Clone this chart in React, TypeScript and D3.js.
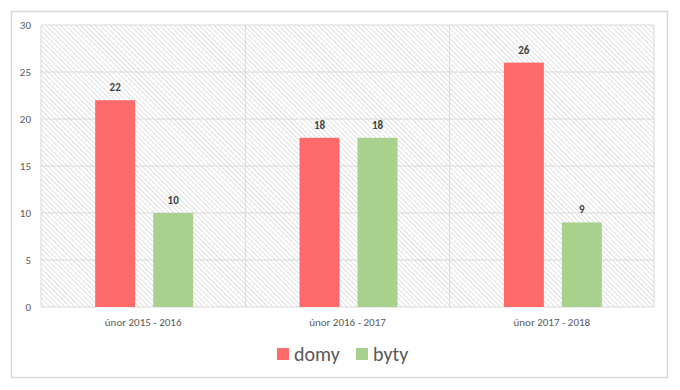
import React from 'react';
import * as d3 from 'd3';

const categories = ['únor 2015 - 2016', 'únor 2016 - 2017', 'únor 2017 - 2018'];
const domy = [22, 18, 26];
const byty = [10, 18, 9];
const yTicks = [0, 5, 10, 15, 20, 25, 30];
const seriesNames = ['domy', 'byty'];
const colors = ['#ff6b6b', '#a9d18e'];

export default function App() {
  const width = 680, height = 390;
  const left = 41, right = 654, top = 25, bottom = 307;
  const font = 'Calibri, Carlito, "Open Sans", sans-serif';

  const x = d3.scaleBand().domain(categories).range([left, right]).paddingInner(0).paddingOuter(0);
  const y = d3.scaleLinear().domain([0, 30]).range([bottom, top]);
  const barW = 40, gap = 18;
  const series = [domy, byty];

  return (
    <svg width={width} height={height} style={{ position: 'absolute', left: 0, top: 0 }}>
      <defs>
        <pattern id="hatch" width="3.5" height="3.5" patternUnits="userSpaceOnUse" patternTransform="rotate(-45)">
          <line x1="0" y1="0" x2="0" y2="3.5" stroke="#c8c8c8" strokeWidth="1.1" />
        </pattern>
      </defs>
      <rect x={0} y={0} width={width} height={height} fill="#fff" />
      <rect x={11.5} y={11.5} width={656} height={366} fill="#fff" stroke="#d9d9d9" strokeWidth={1.5} />
      <rect x={left} y={top} width={right - left} height={bottom - top} fill="url(#hatch)" />
      {yTicks.map(t => (
        <g key={t}>
          <line x1={left} x2={right} y1={y(t)} y2={y(t)} stroke="#d9d9d9" strokeWidth={1} />
          <text x={31} y={y(t)} dy="0.35em" textAnchor="end" fontSize={11} fill="#595959" fontFamily={font}>{t}</text>
        </g>
      ))}
      {[left, ...categories.map(c => (x(c) as number) + x.bandwidth())].map((v, i) => (
        <line key={i} x1={v} x2={v} y1={top} y2={bottom} stroke="#d9d9d9" strokeWidth={1} />
      ))}
      {categories.map((c, ci) => {
        const cx = (x(c) as number) + x.bandwidth() / 2 + 1;
        return (
          <g key={c}>
            {series.map((s, si) => {
              const bx = si === 0 ? cx - gap / 2 - barW : cx + gap / 2;
              return (
                <g key={si}>
                  <rect x={bx} y={y(s[ci])} width={barW} height={y(0) - y(s[ci])} fill={colors[si]} />
                  <text x={bx + barW / 2} y={y(s[ci]) - 9} textAnchor="middle" fontSize={11} fontWeight="bold" fill="#404040" fontFamily={font}>{s[ci]}</text>
                </g>
              );
            })}
            <text x={cx - 1} y={326} textAnchor="middle" fontSize={11} fill="#595959" fontFamily={font}>{c}</text>
          </g>
        );
      })}
      {seriesNames.map((n, i) => {
        const lx = i === 0 ? 277 : 356;
        return (
          <g key={n}>
            <rect x={lx} y={348} width={12} height={12} fill={colors[i]} />
            <text x={lx + 17} y={361} fontSize={20} fill="#595959" fontFamily={font}>{n}</text>
          </g>
        );
      })}
    </svg>
  );
}
